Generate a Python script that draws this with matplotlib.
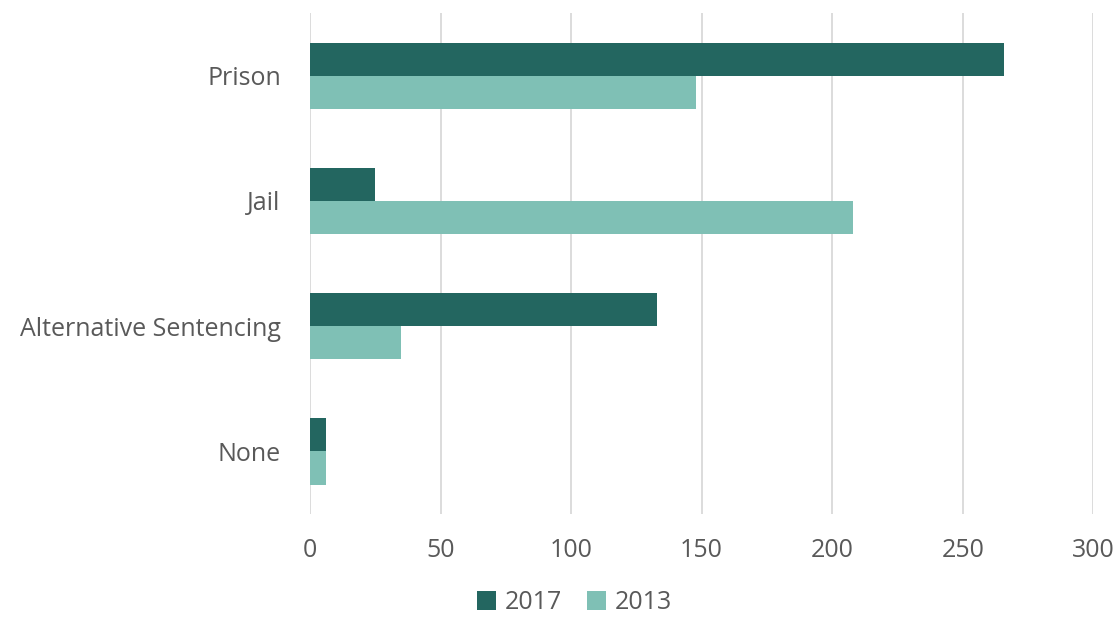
import matplotlib.pyplot as plt
import numpy as np

# Sentencing categories (top to bottom)
categorias = ['Prison', 'Jail', 'Alternative Sentencing', 'None']
valores_2017 = [266, 25, 133, 6]
valores_2013 = [148, 208, 35, 6]

color_2017 = '#236660'
color_2013 = '#7fc0b5'
gris = '#595959'

plt.rcParams['font.family'] = ['Open Sans', 'DejaVu Sans']

fig = plt.figure(figsize=(11.19, 6.23), dpi=100)
ax = fig.add_axes([0.277, 0.175, 0.7, 0.804])

y = np.arange(len(categorias))
alto = 0.265
ax.barh(y - alto / 2, valores_2017, height=alto, color=color_2017, label='2017', zorder=3)
ax.barh(y + alto / 2, valores_2013, height=alto, color=color_2013, label='2013', zorder=3)

ax.set_yticks(y)
ax.set_yticklabels(categorias)
ax.set_ylim(len(categorias) - 0.5, -0.5)
ax.set_xlim(0, 300)
ax.set_xticks(np.arange(0, 301, 50))

ax.grid(axis='x', color='#d9d9d9', linewidth=1.3, zorder=0)
for s in ax.spines.values():
    s.set_visible(False)
ax.tick_params(length=0, labelsize=18, colors=gris)
ax.tick_params(axis='x', pad=17)
ax.tick_params(axis='y', pad=21)

ax.legend(loc='upper center', bbox_to_anchor=(0.338, -0.122), ncol=2, frameon=False,
          fontsize=18, labelcolor=gris, handlelength=0.75, handleheight=0.75,
          handletextpad=0.35, columnspacing=1.0, borderaxespad=0.2)

plt.savefig('out.png', dpi=100)
